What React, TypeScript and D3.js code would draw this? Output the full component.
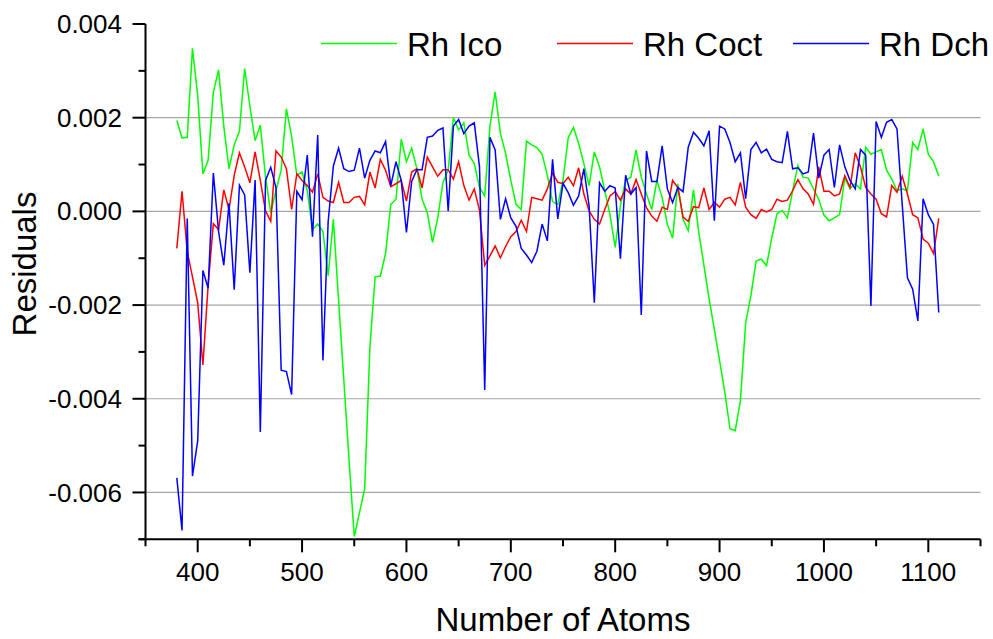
import React from "react";
import * as d3 from "d3";

const atoms = [
  380, 385, 390, 395, 400, 405, 410, 415, 420, 425,
  430, 435, 440, 445, 450, 455, 460, 465, 470, 475,
  480, 485, 490, 495, 500, 505, 510, 515, 520, 525,
  530, 535, 540, 545, 550, 555, 560, 565, 570, 575,
  580, 585, 590, 595, 600, 605, 610, 615, 620, 625,
  630, 635, 640, 645, 650, 655, 660, 665, 670, 675,
  680, 685, 690, 695, 700, 705, 710, 715, 720, 725,
  730, 735, 740, 745, 750, 755, 760, 765, 770, 775,
  780, 785, 790, 795, 800, 805, 810, 815, 820, 825,
  830, 835, 840, 845, 850, 855, 860, 865, 870, 875,
  880, 885, 890, 895, 900, 905, 910, 915, 920, 925,
  930, 935, 940, 945, 950, 955, 960, 965, 970, 975,
  980, 985, 990, 995, 1000, 1005, 1010, 1015, 1020, 1025,
  1030, 1035, 1040, 1045, 1050, 1055, 1060, 1065, 1070, 1075,
  1080, 1085, 1090, 1095, 1100, 1105, 1110,
];

// residual values in units of 1e-3
const rhIco = [
  1.94, 1.57, 1.58, 3.48, 2.47, 0.8, 1.09, 2.54, 3.02, 1.82,
  0.91, 1.42, 1.71, 3.05, 2.25, 1.51, 1.84, 0.73, -0.03, 0.44,
  0.88, 2.19, 1.6, 0.77, 0.84, 0.44, -0.39, -0.27, -0.43, -1.37,
  -0.17, -1.9, -3.6, -5.3, -6.94, -6.43, -5.92, -2.9, -1.4, -1.38,
  -0.9, 0.15, 0.26, 1.54, 1.06, 1.35, 0.91, 0.26, -0.03, -0.66,
  -0.14, 0.62, 0.88, 2.0, 1.74, 1.89, 1.2, 1.02, 0.51, 0.33,
  1.82, 2.55, 1.67, 1.24, 0.66, 0.15, 0.04, 1.5, 1.42, 1.36,
  1.22, 0.77, 0.21, 0.15, 0.66, 1.57, 1.79, 1.45, 1.02, 0.55,
  1.27, 0.95, 0.44, -0.07, -0.77, 0.12, 0.67, 0.73, 1.31, 0.73,
  0.37, 0.04, 0.66, 0.3, -0.28, -0.57, 0.59, -0.17, -0.41, 0.46,
  -0.43, -1.15, -1.87, -2.52, -3.18, -3.86, -4.64, -4.68, -4.04, -2.38,
  -1.8, -1.06, -1.02, -1.16, -0.57, -0.05, 0.02, -0.14, 0.44, 0.98,
  0.73, 0.71, 0.48, 0.26, -0.08, -0.2, -0.14, -0.07, 0.71, 0.49,
  0.59, 0.48, 1.37, 1.22, 1.27, 1.32, 0.88, 0.69, 0.44, 0.48,
  0.44, 1.47, 1.32, 1.76, 1.22, 1.06, 0.75,
];

const rhCoct = [
  -0.79, 0.43, -0.86, -1.4, -1.95, -3.28, -1.58, -0.26, -0.39, 0.46,
  0.04, 0.77, 1.25, 0.95, 0.61, 1.27, 0.66, 0.01, -0.21, 1.29,
  1.16, 0.91, 0.04, 0.8, 0.66, 0.55, 0.41, 0.8, 0.3, 0.22,
  0.19, 0.62, 0.19, 0.19, 0.3, 0.32, 0.14, 0.84, 0.5, 1.11,
  0.88, 0.53, 0.59, 0.66, 0.22, 0.84, 0.91, 0.5, 1.16, 0.95,
  0.75, 0.89, 0.89, 0.69, 1.06, 0.55, 0.24, 0.48, 0.02, -1.15,
  -0.95, -0.74, -0.99, -0.75, -0.54, -0.43, -0.19, -0.43, 0.3, 0.27,
  0.24, 0.48, 0.82, 0.62, 0.59, 0.73, 0.55, 0.93, 0.37, 0.01,
  -0.17, -0.27, 0.04, 0.33, 0.42, 0.24, 0.48, 0.37, 0.68, 0.37,
  0.08, -0.1, -0.21, 0.09, 0.04, 0.66, 0.51, -0.12, -0.21, 0.1,
  0.08, 0.5, 0.04, 0.19, 0.09, 0.26, 0.3, 0.14, 0.62, 0.09,
  -0.07, -0.15, 0.04, -0.01, 0.04, 0.26, 0.21, 0.24, 0.44, 0.68,
  0.48, 0.37, 0.15, 0.95, 0.43, 0.43, 0.33, 0.37, 0.76, 0.51,
  1.25, 0.95, 0.51, 0.37, 0.26, -0.05, -0.12, 0.55, 0.41, 0.75,
  0.37, -0.07, -0.14, -0.59, -0.68, -0.9, -0.15,
];

const rhDch = [
  -5.69, -6.81, -0.15, -5.65, -4.9, -1.26, -1.64, 0.82, -0.43, -1.15,
  0.17, -1.67, 0.56, 0.35, -1.31, 0.67, -4.71, 0.66, 0.94, 0.51,
  -3.39, -3.42, -3.91, 0.43, 0.25, 1.2, -0.54, 1.63, -3.18, -0.22,
  0.97, 1.35, 0.91, 0.85, 0.88, 1.35, 0.71, 1.09, 1.29, 1.25,
  1.49, 0.55, 1.06, 0.66, -0.45, 0.64, 0.89, 0.89, 1.58, 1.61,
  1.73, 1.78, 0.01, 1.82, 1.96, 1.66, 1.82, 1.89, 0.95, -3.81,
  1.58, 1.31, -0.17, 0.27, -0.14, -0.32, -0.79, -0.93, -1.09, -0.85,
  -0.27, -0.63, 1.11, -0.16, 0.6, 0.4, 0.13, 0.33, 0.91, 0.12,
  -1.95, 0.61, 0.43, 0.55, 0.5, -1.01, 0.77, 0.37, 0.51, -2.21,
  1.29, 0.64, 0.64, 1.4, 0.48, 0.19, 0.51, 0.42, 1.37, 1.69,
  1.56, 1.4, 1.72, -0.2, 1.82, 1.76, 1.47, 1.06, 1.25, 0.27,
  1.32, 1.47, 1.25, 1.33, 1.11, 1.06, 1.04, 1.71, 0.91, 0.93,
  0.8, 0.84, 1.67, 0.71, 1.2, 1.32, 0.51, 1.42, 0.95, 0.66,
  0.48, 1.32, 1.2, -2.02, 1.92, 1.58, 1.9, 1.96, 1.76, 0.15,
  -1.42, -1.66, -2.34, 0.27, -0.07, -0.28, -2.16,
];

const seriesNames = ["Rh Ico", "Rh Coct", "Rh Dch"];
const seriesColors = ["#00ff00", "#ff0000", "#0000ff"];
const xMajorTicks = [400, 500, 600, 700, 800, 900, 1000, 1100];
const xMinorTicks = [350, 450, 550, 650, 750, 850, 950, 1050, 1150];
const yMajorTicks = [0.004, 0.002, 0.0, -0.002, -0.004, -0.006];
const yMinorTicks = [0.003, 0.001, -0.001, -0.003, -0.005, -0.007];
const yTickLabels = ["0.004", "0.002", "0.000", "-0.002", "-0.004", "-0.006"];

const W = 993;
const H = 639;
const FONT = "'Liberation Sans', Arial, Helvetica, sans-serif";

export default function App() {
  const x = d3.scaleLinear().domain([350, 1150]).range([145.5, 980.5]);
  const y = d3.scaleLinear().domain([-0.007, 0.004]).range([539.3, 24]);
  const allSeries = [rhIco, rhCoct, rhDch];

  const line = d3
    .line<[number, number]>()
    .x((d) => x(d[0]))
    .y((d) => y(d[1]));

  const x0 = x(350);
  const x1 = x(1150);
  const yb = y(-0.007);
  const yt = y(0.004);

  const legendX = [321, 557, 793];

  return (
    <div style={{ position: "absolute", left: 0, top: 0 }}>
      <svg width={W} height={H} style={{ display: "block", background: "#fff" }}>
        {/* grid */}
        {yMajorTicks
          .filter((t) => t < 0.0039)
          .map((t) => (
            <line key={"g" + t} x1={x0} x2={x1} y1={y(t)} y2={y(t)} stroke="#a6a6a6" strokeWidth={1.2} />
          ))}

        {/* series */}
        {allSeries.map((s, i) => (
          <path
            key={"s" + i}
            d={line(atoms.map((a, j) => [a, s[j] * 0.001]) as [number, number][]) || ""}
            fill="none"
            stroke={seriesColors[i]}
            strokeWidth={1.5}
            strokeLinejoin="miter"
          />
        ))}

        {/* axes */}
        <line x1={x0} x2={x0} y1={yt} y2={yb} stroke="#000" strokeWidth={2} />
        <line x1={x0 - 7} x2={x1} y1={yb} y2={yb} stroke="#000" strokeWidth={2} />

        {yMajorTicks.map((t, i) => (
          <g key={"yt" + t}>
            <line x1={x0 - 13} x2={x0} y1={y(t)} y2={y(t)} stroke="#000" strokeWidth={2} />
            <text
              x={122}
              y={y(t)}
              dy="0.35em"
              textAnchor="end"
              fontFamily={FONT}
              fontSize={26}
              fill="#000"
            >
              {yTickLabels[i]}
            </text>
          </g>
        ))}
        {yMinorTicks.map((t) => (
          <line key={"ym" + t} x1={x0 - 7} x2={x0} y1={y(t)} y2={y(t)} stroke="#000" strokeWidth={2} />
        ))}

        {xMajorTicks.map((t) => (
          <g key={"xt" + t}>
            <line x1={x(t)} x2={x(t)} y1={yb} y2={yb + 13} stroke="#000" strokeWidth={2} />
            <text x={x(t)} y={581} textAnchor="middle" fontFamily={FONT} fontSize={26} fill="#000">
              {t}
            </text>
          </g>
        ))}
        {xMinorTicks.map((t) => (
          <line key={"xm" + t} x1={x(t)} x2={x(t)} y1={yb} y2={yb + 7} stroke="#000" strokeWidth={2} />
        ))}

        {/* axis titles */}
        <text x={563} y={631} textAnchor="middle" fontFamily={FONT} fontSize={33} fill="#000">
          Number of Atoms
        </text>
        <text
          transform={`translate(36, 264) rotate(-90)`}
          textAnchor="middle"
          fontFamily={FONT}
          fontSize={33}
          fill="#000"
        >
          Residuals
        </text>

        {/* legend */}
        {seriesNames.map((name, i) => (
          <g key={"l" + i}>
            <line
              x1={legendX[i]}
              x2={legendX[i] + 76}
              y1={43.5}
              y2={43.5}
              stroke={seriesColors[i]}
              strokeWidth={1.5}
            />
            <text x={legendX[i] + 86} y={55.5} fontFamily={FONT} fontSize={33} fill="#000">
              {name}
            </text>
          </g>
        ))}
      </svg>
    </div>
  );
}
